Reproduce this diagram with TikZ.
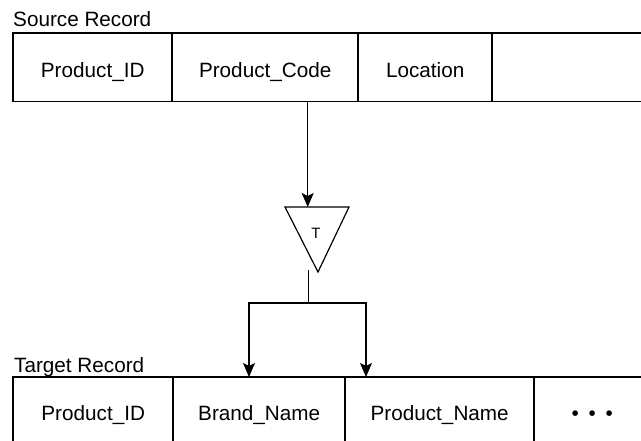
\documentclass[tikz,border=0pt]{standalone}
\usepackage{fontspec}
\setmainfont{Liberation Sans}
\usetikzlibrary{arrows.meta}
\begin{document}
\begin{tikzpicture}[x=1pt,y=-1pt,
  big/.style={font=\fontsize{20.7}{24}\selectfont},
  topcell/.style={big, anchor=north west, inner sep=0pt, minimum height=68pt, text height=20pt, text depth=0pt},
  botcell/.style={big, anchor=north west, inner sep=0pt, minimum height=64pt, text height=22pt, text depth=0pt},
  title/.style={big, anchor=base west, inner sep=0pt},
  rule/.style={line width=1.3pt, line cap=rect},
  conn/.style={line width=1.2pt, -{Stealth[length=14pt,width=12pt,inset=3pt]}},
  stem/.style={line width=1pt}]
\useasboundingbox (0,0) rectangle (641,441);

% titles
\node[title] (srcT) at (13,27) {Source Record};
\node[title] (tgtT) at (14,372) {Target Record};

% source record cells
\node[topcell, minimum width=159pt] (s1) at (13,33) {Product\_ID};
\node[topcell, minimum width=186pt] (s2) at (172,33) {Product\_Code};
\node[topcell, minimum width=134pt] (s3) at (358,33) {Location};
\node[topcell, minimum width=149pt] (s4) at (492,33) {};
\draw[rule] (s1.north west) -- (s4.north east);
\draw[rule] (s1.south west) -- (s4.south east);
\foreach \c in {s1,s2,s3,s4} \draw[rule] (\c.north west) -- (\c.south west);

% target record cells
\node[botcell, minimum width=160pt] (b1) at (13,377) {Product\_ID};
\node[botcell, minimum width=172pt] (b2) at (173,377) {Brand\_Name};
\node[botcell, minimum width=189pt] (b3) at (345,377) {Product\_Name};
\node[botcell, minimum width=107pt] (b4) at (534,377) {\kern9pt•\hspace{9.8pt}•\hspace{9.8pt}•};
\draw[rule] (b1.north west) -- (b4.north east);
\foreach \c in {b1,b2,b3,b4} \draw[rule] (\c.north west) -- (\c.south west);

% transformation triangle
\coordinate (tA) at (285,207);
\coordinate (tB) at (349,207);
\coordinate (tC) at (318,272);
\draw[line width=1.2pt, line join=miter] (tA) -- (tB) -- (tC) -- cycle;
\node[font=\fontsize{15}{18}\selectfont, anchor=base, inner sep=0pt] (T) at (316,239) {T};

% connectors
\coordinate (p0) at (307.7,101);
\coordinate (p1) at (307.7,207);
\draw[conn] (p0) -- (p1);
\coordinate (q0) at (308,270);
\coordinate (j) at (308,303);
\coordinate (a1) at (249,377);
\coordinate (a2) at (366,377);
\draw[stem] (q0) -- (j);
\draw[conn] (j) -| (a1);
\draw[conn] (j) -| (a2);
\end{tikzpicture}
\end{document}
